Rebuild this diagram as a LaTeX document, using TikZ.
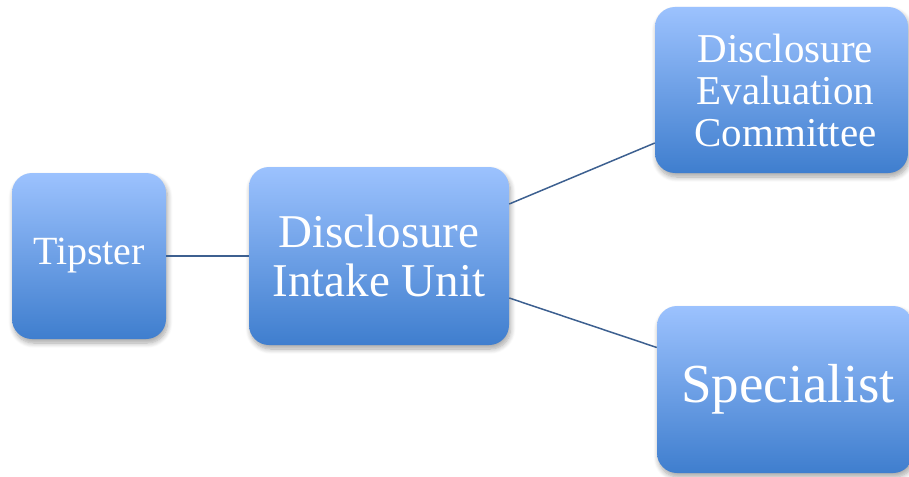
\documentclass[tikz,border=0pt]{standalone}
\usepackage{fontspec}
\setmainfont{Liberation Serif}
\usetikzlibrary{shadows.blur}
\definecolor{boxtop}{HTML}{9CC2FE}
\definecolor{boxbot}{HTML}{3F7ECE}
\definecolor{linkc}{HTML}{3D6090}
\tikzset{
  orgbox/.style={rounded corners=20pt, top color=boxtop, bottom color=boxbot,
    draw=none, text=white, align=center, inner sep=0pt,
    blur shadow={shadow xshift=1.5pt, shadow yshift=-4pt, shadow blur steps=8, shadow opacity=35, shadow blur radius=5pt}},
  link/.style={draw=linkc, line width=1.5pt}
}
\begin{document}
\begin{tikzpicture}[x=1pt,y=-1pt]
\useasboundingbox (0,0) rectangle (909,476);
\begin{scope}
\clip (0,0) rectangle (909,476);
\node[orgbox, minimum width=154pt, minimum height=166pt, font=\fontsize{40}{44}\selectfont] (tip) at (89,256) {Tipster};
\node[orgbox, minimum width=260pt, minimum height=178pt, font=\fontsize{47}{49}\selectfont] (intake) at (379,256) {Disclosure\\Intake Unit};
\node[orgbox, minimum width=253pt, minimum height=166pt, font=\fontsize{41}{42}\selectfont] (comm) at (781.5,90) {\hspace*{8pt}Disclosure\\\hspace*{8pt}Evaluation\\\hspace*{8pt}Committee};
\node[orgbox, minimum width=256pt, minimum height=167pt, font=\fontsize{55}{58}\selectfont] (spec) at (785,389.5) {\hspace*{6pt}Specialist};
\end{scope}
\draw[link] (tip.east) -- (intake.west);
\draw[link] ([yshift=52pt]intake.east) -- ([yshift=-53pt]comm.west);
\draw[link] ([yshift=-42pt]intake.east) -- ([yshift=42pt]spec.west);
\end{tikzpicture}
\end{document}
